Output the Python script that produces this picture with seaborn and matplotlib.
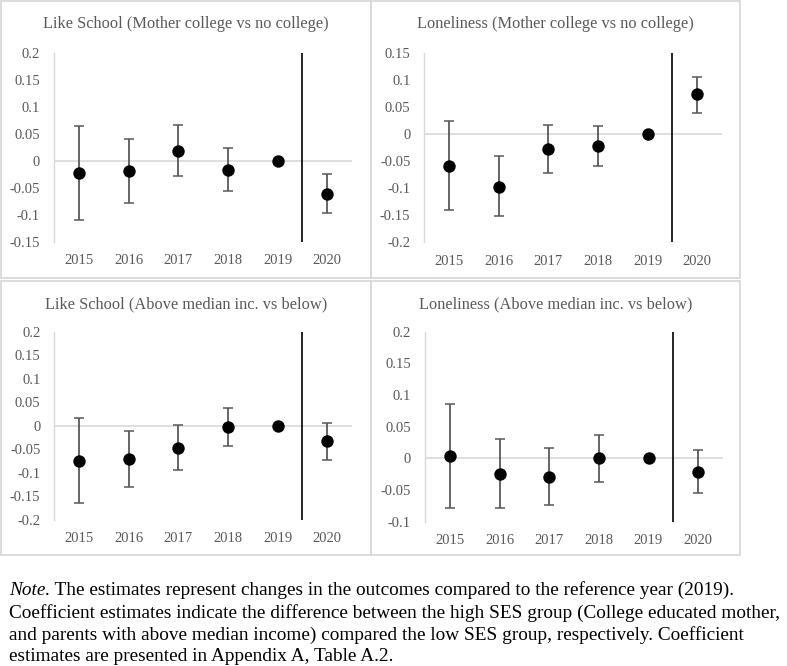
import numpy as np
import pandas as pd
import seaborn as sns
from matplotlib import pyplot as plt
from matplotlib.patches import Rectangle

years = [2015, 2016, 2017, 2018, 2019, 2020]

# point estimates and confidence bounds
like_mom_est = [-0.022, -0.019, 0.019, -0.017, 0.0, -0.061]
like_mom_hi = [0.065, 0.041, 0.067, 0.024, np.nan, -0.025]
like_mom_lo = [-0.110, -0.078, -0.028, -0.056, np.nan, -0.096]

lone_mom_est = [-0.058, -0.097, -0.027, -0.021, 0.0, 0.074]
lone_mom_hi = [0.024, -0.041, 0.018, 0.016, np.nan, 0.107]
lone_mom_lo = [-0.141, -0.152, -0.072, -0.058, np.nan, 0.040]

like_inc_est = [-0.074, -0.070, -0.046, -0.003, 0.0, -0.033]
like_inc_hi = [0.016, -0.011, 0.002, 0.037, np.nan, 0.007]
like_inc_lo = [-0.163, -0.130, -0.093, -0.043, np.nan, -0.072]

lone_inc_est = [0.003, -0.024, -0.029, 0.0, 0.0, -0.021]
lone_inc_hi = [0.086, 0.031, 0.016, 0.037, np.nan, 0.013]
lone_inc_lo = [-0.079, -0.079, -0.074, -0.037, np.nan, -0.054]

titles = ["Like School (Mother college vs no college)",
          "Loneliness (Mother college vs no college)",
          "Like School (Above median inc. vs below)",
          "Loneliness (Above median inc. vs below)"]

yticks_1 = [-0.15, -0.1, -0.05, 0, 0.05, 0.1, 0.15, 0.2]
yticks_2 = [-0.2, -0.15, -0.1, -0.05, 0, 0.05, 0.1, 0.15]
yticks_3 = [-0.2, -0.15, -0.1, -0.05, 0, 0.05, 0.1, 0.15, 0.2]
yticks_4 = [-0.1, -0.05, 0, 0.05, 0.1, 0.15, 0.2]

note_italic = "Note."
note_lines = [" The estimates represent changes in the outcomes compared to the reference year (2019).",
              "Coefficient estimates indicate the difference between the high SES group (College educated mother,",
              "and parents with above median income) compared the low SES group, respectively. Coefficient",
              "estimates are presented in Appendix A, Table A.2."]

sns.set_style("white")
plt.rcParams['font.family'] = ['Liberation Serif', 'DejaVu Serif']

W, H = 787, 666
fig = plt.figure(figsize=(W / 100, H / 100), dpi=100)

grey = "#595959"
light = "#d9d9d9"

# panel frames (px): left, top, right, bottom
frames = [(1, 1, 371, 278), (371, 1, 740, 278), (1, 281, 371, 555), (371, 281, 740, 555)]
for l, t, r, b in frames:
    fig.patches.append(Rectangle((l / W, 1 - b / H), (r - l) / W, (b - t) / H,
                                 transform=fig.transFigure, fill=False,
                                 edgecolor=light, linewidth=1.3))

# axes boxes (px): left, top, right, bottom
boxes = [(54, 53.3, 352, 241.7), (424.3, 53.3, 722, 242.3),
         (54.3, 331.7, 352, 520), (425, 331.7, 723, 521.7)]
panels = [(like_mom_est, like_mom_lo, like_mom_hi, yticks_1),
          (lone_mom_est, lone_mom_lo, lone_mom_hi, yticks_2),
          (like_inc_est, like_inc_lo, like_inc_hi, yticks_3),
          (lone_inc_est, lone_inc_lo, lone_inc_hi, yticks_4)]

for (l, t, r, b), (est, lo, hi, yt), title, frame in zip(boxes, panels, titles, frames):
    ax = fig.add_axes([l / W, 1 - b / H, (r - l) / W, (b - t) / H])
    df = pd.DataFrame({"year": years, "est": est, "lo": lo, "hi": hi})
    err = np.vstack([df.est - df.lo, df.hi - df.est])
    ax.errorbar(df.year, df.est, yerr=err, fmt="none", ecolor=grey,
                elinewidth=1.3, capsize=3.3, capthick=1.1, zorder=2)
    sns.scatterplot(data=df, x="year", y="est", ax=ax, color="black", s=80,
                    edgecolor="black", linewidth=0, zorder=3, legend=False)
    ax.set_xlim(2014.5, 2020.5)
    ax.set_ylim(yt[0], yt[-1])
    ax.axhline(0, color=light, linewidth=1.2, zorder=1)
    ax.axvline(2019.5, color="black", linewidth=1.2, zorder=1)
    ax.set_xticks(years)
    ax.set_xticklabels([str(y) for y in years])
    ax.set_yticks(yt)
    ax.set_yticklabels([f"{v:g}" for v in yt])
    ax.tick_params(axis="both", length=0, labelsize=10.5, colors=grey)
    ax.tick_params(axis="y", pad=10)
    ax.tick_params(axis="x", pad=9)
    for s in ["top", "right", "bottom"]:
        ax.spines[s].set_visible(False)
    ax.spines["left"].set_color(light)
    ax.spines["left"].set_linewidth(1.0)
    ax.set_xlabel("")
    ax.set_ylabel("")
    ax.patch.set_alpha(0)
    cx = (frame[0] + frame[2]) / 2
    fig.text(cx / W, 1 - (frame[1] + 23) / H, title, ha="center", va="center",
             fontsize=11.75, color=grey)

# note under the figure
fs = 13.9
baselines = [595, 617.5, 640, 661]
t0 = fig.text(9 / W, 1 - baselines[0] / H, note_italic, fontsize=fs, style="italic",
              ha="left", va="baseline", color="black")
fig.canvas.draw()
bb = t0.get_window_extent()
fig.text(bb.x1 / W, 1 - baselines[0] / H, note_lines[0], fontsize=fs, ha="left",
         va="baseline", color="black")
for yb, line in zip(baselines[1:], note_lines[1:]):
    fig.text(9 / W, 1 - yb / H, line, fontsize=fs,
             ha="left", va="baseline", color="black")

fig.savefig("out.png", dpi=100)
